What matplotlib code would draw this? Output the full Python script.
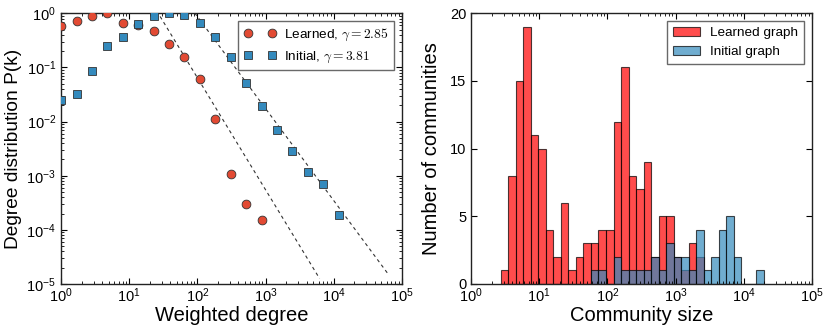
import numpy as np
import matplotlib
matplotlib.use('Agg')
import matplotlib.pyplot as plt

plt.rcParams['font.family'] = ['Liberation Sans', 'DejaVu Sans']
plt.rcParams['mathtext.fontset'] = 'cm'
plt.rcParams['xtick.direction'] = 'in'
plt.rcParams['ytick.direction'] = 'in'
plt.rcParams['xtick.top'] = True
plt.rcParams['ytick.right'] = True
plt.rcParams['xtick.major.size'] = 4.5
plt.rcParams['ytick.major.size'] = 4.5
plt.rcParams['xtick.minor.size'] = 2
plt.rcParams['ytick.minor.size'] = 2
plt.rcParams['xtick.major.pad'] = 1.5
plt.rcParams['ytick.major.pad'] = 3.5

#datos - distribucion de grados
k_learned = [1.0, 1.7, 2.85, 4.8, 8.0, 13.5, 22.8, 38.4, 64.3, 109, 183, 307, 516, 876]
p_learned = [0.58, 0.73, 0.89, 1.0, 0.67, 0.61, 0.47, 0.27, 0.154, 0.060, 0.0112,
             0.00106, 3.05e-4, 1.52e-4]

k_initial = [1.0, 1.7, 2.85, 4.8, 8.0, 13.5, 22.8, 38.4, 64.3, 109, 183, 307, 516,
             876, 1469, 2466, 4140, 7030, 11790]
p_initial = [0.025, 0.032, 0.087, 0.25, 0.37, 0.64, 0.91, 1.0, 0.92, 0.65, 0.36,
             0.156, 0.051, 0.0197, 0.0071, 0.0029, 0.00117, 7.0e-4, 1.91e-4]

# ajustes de ley de potencia: P = C * k^-s
fit_learned = {'C': 10**2.95, 's': 2.07, 'kmin': 20, 'kmax': 6200}
fit_initial = {'C': 10**3.34, 's': 1.70, 'kmin': 80, 'kmax': 63000}

gamma_learned = 2.85
gamma_initial = 3.81

#datos - tamaño de comunidades (bins logaritmicos)
bin_edges = np.logspace(0.435, 4.296, 36)
counts_learned = [1, 8, 15, 19, 11, 10, 4, 2, 6, 1, 2, 3, 3, 4, 4, 12, 16, 8, 7, 9,
                  2, 5, 5, 2, 1, 3, 2, 0, 0, 0, 0, 0, 0, 0, 0]
counts_initial = [0, 0, 0, 0, 0, 0, 0, 0, 0, 0, 0, 0, 1, 1, 0, 2, 1, 1, 1, 1,
                  2, 1, 3, 2, 2, 1, 4, 1, 2, 4, 5, 2, 0, 0, 1]

#grafica
fig = plt.figure(figsize=(8.31, 3.31), dpi=100)
ax1 = fig.add_axes([0.0734, 0.142, 0.4103, 0.8178])
ax2 = fig.add_axes([0.5668, 0.142, 0.4103, 0.8178])

for fit in (fit_learned, fit_initial):
    kk = np.logspace(np.log10(fit['kmin']), np.log10(fit['kmax']), 200)
    ax1.plot(kk, fit['C'] * kk ** (-fit['s']), '--', color='#333333', lw=0.8,
             dashes=(3, 3), zorder=1)

ax1.plot(k_learned, p_learned, 'o', color='#E24A33', mec='#333333', mew=0.6,
         ms=6.3, label=r'Learned, $\gamma=%.2f$' % gamma_learned, zorder=3)
ax1.plot(k_initial, p_initial, 's', color='#348ABD', mec='#333333', mew=0.6,
         ms=6.3, label=r'Initial, $\gamma=%.2f$' % gamma_initial, zorder=3)
ax1.set_xscale('log')
ax1.set_yscale('log')
ax1.set_xlim(1, 1e5)
ax1.set_ylim(1e-5, 1)
ax1.set_xlabel('Weighted degree', fontsize=14.5, labelpad=1)
ax1.set_ylabel('Degree distribution P(k)', fontsize=13.8, labelpad=3)
ax1.tick_params(labelsize=10.5)
leg1 = ax1.legend(loc='upper right', numpoints=2, fontsize=9.7, fancybox=False,
                  borderaxespad=0.6, handletextpad=0.6, handlelength=2.4)
leg1.get_frame().set_edgecolor('#444444')
leg1.get_frame().set_linewidth(1.0)

centers = np.sqrt(bin_edges[:-1] * bin_edges[1:])
ax2.hist(centers, bins=bin_edges, weights=counts_learned, color='red', alpha=0.7,
         edgecolor='black', linewidth=0.8, label='Learned graph')
ax2.hist(centers, bins=bin_edges, weights=counts_initial, color='#348ABD', alpha=0.7,
         edgecolor='black', linewidth=0.8, label='Initial graph')
ax2.set_xscale('log')
ax2.set_xlim(1, 1e5)
ax2.set_ylim(0, 20)
ax2.set_yticks([0, 5, 10, 15, 20])
ax2.set_xlabel('Community size', fontsize=14.5, labelpad=1)
ax2.set_ylabel('Number of communities', fontsize=14.5, labelpad=6)
ax2.tick_params(labelsize=10.5)
leg2 = ax2.legend(loc='upper right', fontsize=9.7, fancybox=False,
                  borderaxespad=0.6)
leg2.get_frame().set_edgecolor('#444444')
leg2.get_frame().set_linewidth(1.0)

for ax in (ax1, ax2):
    for sp in ax.spines.values():
        sp.set_linewidth(1.0)
        sp.set_color('#222222')

fig.savefig('out.png', dpi=100)
